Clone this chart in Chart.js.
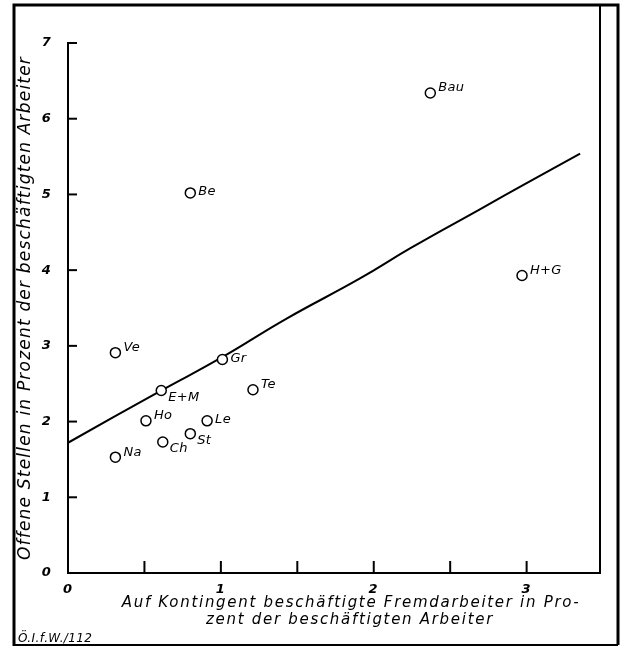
<!DOCTYPE html>
<html><head><meta charset="utf-8">
<script src="https://cdn.jsdelivr.net/npm/chart.js@4"></script>
<style>html,body{margin:0;padding:0;background:#fff}canvas{display:block}</style>
</head><body>
<canvas id="c" width="624" height="649"></canvas>
<script>
// --- data ---
const branchen      = ['Na','Ve','Ho','E+M','Ch','St','Le','Gr','Te','Be','Bau','H+G'];
const fremdarbeiter = [0.31,0.31,0.51,0.61,0.62,0.80,0.91,1.01,1.21,0.80,2.37,2.97];
const offeneStellen = [1.53,2.91,2.01,2.41,1.73,1.84,2.01,2.82,2.42,5.02,6.34,3.93];
const trendX = [0,0.6,1.0,1.43,1.91,2.24,2.7,3.0,3.35];
const trendY = [1.72,2.4,2.84,3.36,3.89,4.29,4.81,5.15,5.54];
const xTicks = [0,0.5,1,1.5,2,2.5,3];
const yTicks = [0,1,2,3,4,5,6,7];
const yTitle = 'Offene Stellen in Prozent der beschäftigten Arbeiter';
const xTitle = ['Auf Kontingent beschäftigte Fremdarbeiter in Pro-','zent der beschäftigten Arbeiter'];
const quelle = 'Ö.I.f.W./112';

// --- styling ---
const labelSide = ['ur','ur','ur','lr','lr','lr','r','r','ur','r','ur','ur'];
const sideOffset = {ur:[8,-5], r:[8,-1], lr:[7,7]};
const FAM = '"DejaVu Sans", sans-serif';

const decor = {
  id: 'decor',
  beforeDraw(chart) {
    // wide lettering of the original, applied while the axes are drawn
    chart.ctx.letterSpacing = '1.2px';
  },
  beforeDatasetsDraw(chart) {
    chart.ctx.letterSpacing = '0px';
  },
  afterDraw(chart) {
    const {ctx, chartArea: a, scales: {x, y}} = chart;
    ctx.save();
    ctx.strokeStyle = '#000';
    ctx.fillStyle = '#000';
    // outer frame
    ctx.lineWidth = 3;
    ctx.beginPath();
    ctx.moveTo(14, 646); ctx.lineTo(14, 5); ctx.lineTo(618, 5); ctx.lineTo(618, 645);
    ctx.stroke();
    ctx.lineWidth = 2;
    ctx.beginPath(); ctx.moveTo(14, 645); ctx.lineTo(618, 645); ctx.stroke();
    // inner right line
    ctx.beginPath(); ctx.moveTo(a.right, 5); ctx.lineTo(a.right, a.bottom); ctx.stroke();
    // inward ticks
    ctx.lineWidth = 2;
    xTicks.forEach(v => {
      if (v === 0) return;
      const px = x.getPixelForValue(v);
      ctx.beginPath(); ctx.moveTo(px, a.bottom); ctx.lineTo(px, a.bottom - 12); ctx.stroke();
    });
    yTicks.forEach(v => {
      if (v === 0) return;
      const py = y.getPixelForValue(v);
      ctx.beginPath(); ctx.moveTo(a.left, py); ctx.lineTo(a.left + 9, py); ctx.stroke();
    });
    // point labels
    ctx.font = 'italic 13px ' + FAM;
    ctx.letterSpacing = '0.3px';
    ctx.textAlign = 'left';
    ctx.textBaseline = 'middle';
    const meta = chart.getDatasetMeta(0);
    meta.data.forEach((el, i) => {
      const [dx, dy] = sideOffset[labelSide[i]];
      ctx.fillText(branchen[i], el.x + dx, el.y + dy);
    });
    // x axis title
    ctx.font = 'italic 15px ' + FAM;
    ctx.letterSpacing = '1.7px';
    ctx.textAlign = 'center';
    ctx.fillText(xTitle[0], 351, 603);
    ctx.fillText(xTitle[1], 350, 620);
    // source note
    ctx.font = 'italic 12px ' + FAM;
    ctx.letterSpacing = '0.4px';
    ctx.textAlign = 'left';
    ctx.textBaseline = 'alphabetic';
    ctx.fillText(quelle, 18, 642);
    ctx.restore();
  }
};

const tickFont = {family: FAM, size: 13, style: 'italic', weight: 'bold'};

new Chart(document.getElementById('c'), {
  type: 'scatter',
  data: {
    datasets: [
      {
        label: 'Branchen',
        data: branchen.map((b, i) => ({x: fremdarbeiter[i], y: offeneStellen[i]})),
        pointRadius: 5, pointBorderWidth: 1.5,
        pointBorderColor: '#000', pointBackgroundColor: '#fff',
        showLine: false, order: 0
      },
      {
        label: 'Trend',
        data: trendX.map((v, i) => ({x: v, y: trendY[i]})),
        showLine: true, pointRadius: 0, borderColor: '#000', borderWidth: 2,
        tension: 0.45, order: 1
      }
    ]
  },
  options: {
    responsive: false, animation: false, devicePixelRatio: 1,
    layout: {padding: {left: 14, top: 43, right: 24, bottom: 0}},
    plugins: {legend: {display: false}, tooltip: {enabled: false}},
    scales: {
      x: {
        type: 'linear', min: 0, max: 3.48,
        afterBuildTicks(s) { s.ticks = xTicks.map(v => ({value: v})); },
        ticks: {callback: v => Number.isInteger(v) ? String(v) : '', font: tickFont, color: '#000',
                padding: 1, maxRotation: 0, autoSkip: false},
        grid: {display: false},
        border: {display: true, color: '#000', width: 2},
        afterFit(s) { s.height = 76; }
      },
      y: {
        type: 'linear', min: 0, max: 7,
        afterBuildTicks(s) { s.ticks = yTicks.map(v => ({value: v})); },
        ticks: {font: tickFont, color: '#000', padding: 8},
        grid: {display: false},
        border: {display: true, color: '#000', width: 2},
        title: {display: true, text: yTitle, color: '#000',
                font: {family: FAM, size: 17, style: 'italic'}, padding: {top: 1, bottom: 0}},
        afterFit(s) { s.width = 54; }
      }
    }
  },
  plugins: [decor]
});
</script>
</body></html>
